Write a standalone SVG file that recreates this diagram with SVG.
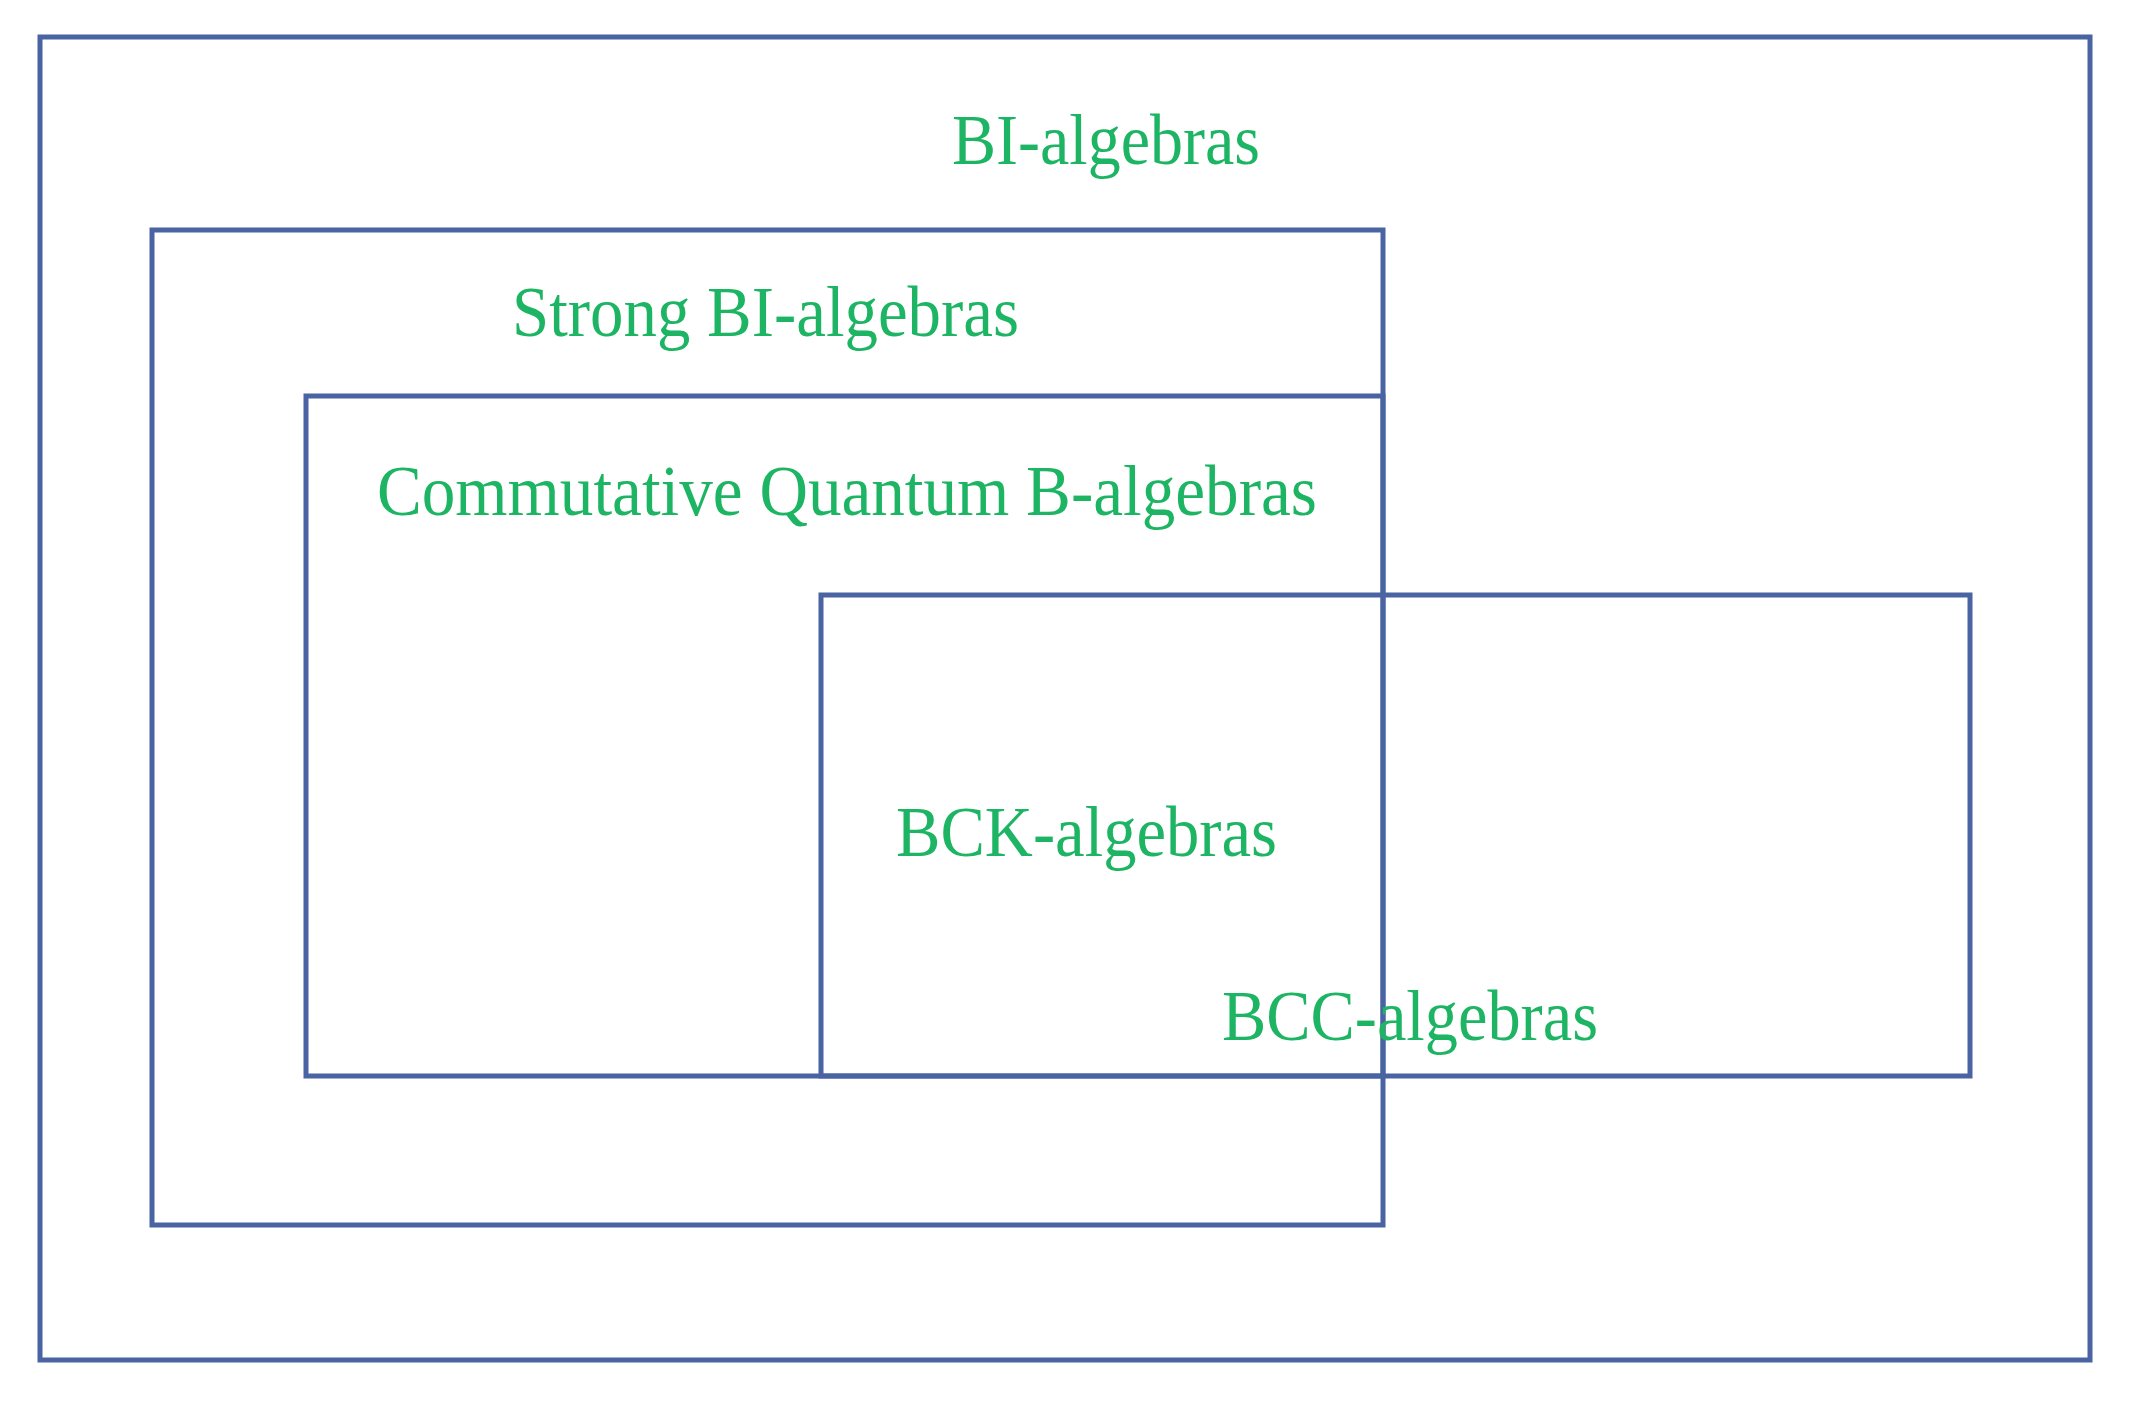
<svg xmlns="http://www.w3.org/2000/svg" width="2138" height="1402" viewBox="0 0 2138 1402">
<style>
.box{fill:none;stroke:#4a63a2;stroke-width:5}
.lbl{font-family:"Liberation Serif","Times New Roman",serif;font-size:72px;fill:#1db564}
</style>
<rect width="2138" height="1402" fill="#ffffff"/>
<g id="bi-algebras">
<rect class="box" x="40" y="37" width="2050" height="1323"/>
<text class="lbl" x="952" y="164" textLength="308" lengthAdjust="spacingAndGlyphs">BI-algebras</text>
</g>
<g id="strong-bi-algebras">
<rect class="box" x="152" y="230" width="1231" height="995"/>
<text class="lbl" x="512" y="336" textLength="507" lengthAdjust="spacingAndGlyphs">Strong BI-algebras</text>
</g>
<g id="commutative-quantum-b-algebras">
<rect class="box" x="306" y="396" width="1077" height="680"/>
<text class="lbl" x="377" y="515" textLength="940" lengthAdjust="spacingAndGlyphs">Commutative Quantum B-algebras</text>
</g>
<g id="bcc-algebras">
<rect class="box" x="821" y="595" width="1149" height="481"/>
<text class="lbl" x="1222" y="1040" textLength="376" lengthAdjust="spacingAndGlyphs">BCC-algebras</text>
</g>
<g id="bck-algebras">
<text class="lbl" x="896" y="856" textLength="381" lengthAdjust="spacingAndGlyphs">BCK-algebras</text>
</g>
<g id="connectors"></g>
</svg>
